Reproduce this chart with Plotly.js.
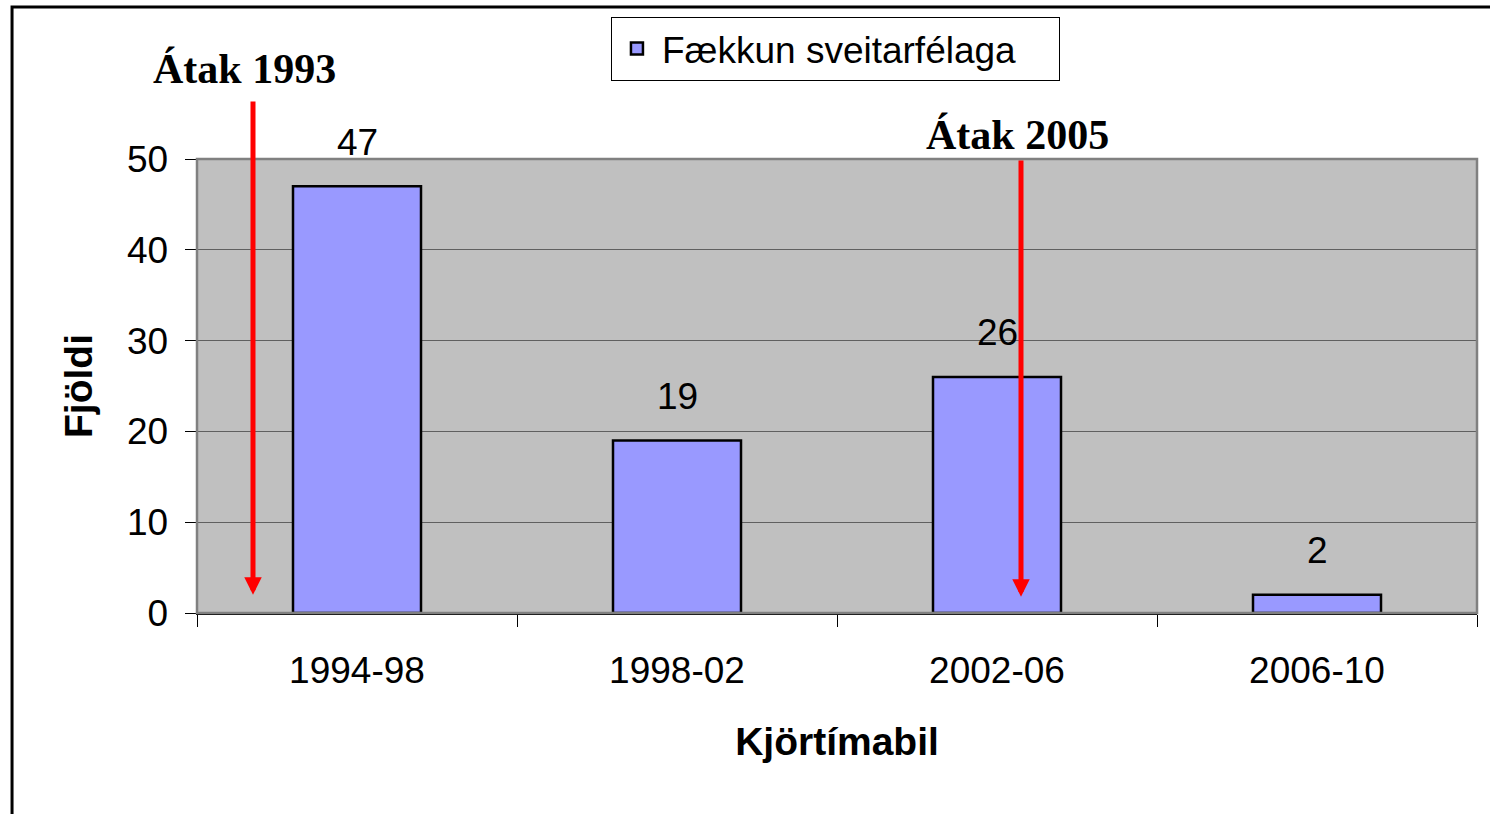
<!DOCTYPE html>
<html>
<head>
<meta charset="utf-8">
<script src="https://cdn.plot.ly/plotly-3.0.1.min.js"></script>
<style>
  html, body { margin: 0; padding: 0; background: #ffffff; }
  #chart { width: 1490px; height: 814px; }
</style>
</head>
<body>
<div id="chart"></div>
<script>
// Data
var categories = ["1994-98", "1998-02", "2002-06", "2006-10"];
var values = [47, 19, 26, 2];
var seriesName = "Fækkun sveitarfélaga";
var yTicks = [0, 10, 20, 30, 40, 50];
var xTitle = "Kjörtímabil";
var yTitle = "Fjöldi";
var eventLabels = ["Átak 1993", "Átak 2005"];

var sansFont = "Arial, 'Liberation Sans', sans-serif";
var serifFont = "'Times New Roman', 'Liberation Serif', serif";

var trace = {
  type: "bar",
  x: categories,
  y: values,
  name: seriesName,
  width: 0.4,
  marker: { color: "#9999FF", line: { color: "#000000", width: 2.5 } },
  showlegend: true,
  hoverinfo: "x+y"
};

// value labels above the bars
var annotations = categories.map(function (c, i) {
  return {
    x: c, y: values[i], xref: "x", yref: "y",
    text: String(values[i]), showarrow: false,
    yshift: 44, font: { family: sansFont, size: 37, color: "#000" }
  };
});

// event labels and arrows
annotations.push({
  x: -0.353, y: 1.198, xref: "x", yref: "paper", yanchor: "middle", xanchor: "center",
  text: "<b>" + eventLabels[0] + "</b>",
  showarrow: false, font: { family: serifFont, size: 42, color: "#000" }
});
annotations.push({
  x: 2.0625, y: 1.053, xref: "x", yref: "paper", yanchor: "middle", xanchor: "center",
  text: "<b>" + eventLabels[1] + "</b>",
  showarrow: false, font: { family: serifFont, size: 42, color: "#000" }
});
annotations.push({
  x: -0.325, y: 2, xref: "x", yref: "y",
  ax: -0.325, ay: 56.5, axref: "x", ayref: "y",
  text: "", showarrow: true, arrowhead: 2, arrowsize: 0.7, arrowwidth: 5, arrowcolor: "#FF0000"
});
annotations.push({
  x: 2.075, y: 1.8, xref: "x", yref: "y",
  ax: 2.075, ay: 50, axref: "x", ayref: "y",
  text: "", showarrow: true, arrowhead: 2, arrowsize: 0.7, arrowwidth: 5, arrowcolor: "#FF0000"
});

var layout = {
  width: 1490, height: 814,
  margin: { l: 197, r: 13, t: 159, b: 201, pad: 0 },
  paper_bgcolor: "#ffffff",
  plot_bgcolor: "#C0C0C0",
  font: { family: sansFont, size: 37, color: "#000" },
  bargap: 0.6,
  xaxis: {
    type: "category",
    range: [-0.5, 3.5],
    autorange: false,
    showline: true, linecolor: "#000", linewidth: 1.5,
    ticks: "outside", ticklen: 12, tickcolor: "#000", tickwidth: 1,
    tickson: "boundaries",
    ticklabelstandoff: 24,
    tickfont: { family: sansFont, size: 37, color: "#000" },
    showgrid: false, zeroline: false,
    title: { text: "<b>" + xTitle + "</b>", font: { family: sansFont, size: 39, color: "#000" }, standoff: 38 }
  },
  yaxis: {
    range: [0, 50],
    autorange: false,
    tickvals: yTicks,
    ticktext: yTicks.map(String),
    showline: true, linecolor: "#000", linewidth: 1.5,
    ticks: "outside", ticklen: 11, tickcolor: "#000", tickwidth: 1,
    ticklabelstandoff: 9,
    tickfont: { family: sansFont, size: 37, color: "#000" },
    showgrid: true, gridcolor: "#606060", gridwidth: 1,
    zeroline: false,
    title: { text: "<b>" + yTitle + "</b>", font: { family: sansFont, size: 39, color: "#000" }, standoff: 22 }
  },
  showlegend: true,
  legend: {
    x: 0.3234, y: 1.3128, xanchor: "left", yanchor: "top",
    orientation: "h",
    entrywidth: 392,
    bgcolor: "#ffffff", bordercolor: "#000", borderwidth: 1,
    itemwidth: 40,
    font: { family: sansFont, size: 37, color: "#000" }
  },
  annotations: annotations,
  shapes: [
    { type: "rect", xref: "paper", yref: "paper", x0: 0, x1: 1, y0: 0, y1: 1,
      line: { color: "#808080", width: 2.5 }, fillcolor: "rgba(0,0,0,0)", layer: "above" },
    { type: "rect", xref: "paper", yref: "paper", x0: -0.1445, x1: 1.2, y0: -0.6, y1: 1.3348,
      line: { color: "#000", width: 3 }, fillcolor: "rgba(0,0,0,0)", layer: "above" }
  ]
};

Plotly.newPlot("chart", [trace], layout, { displayModeBar: false, staticPlot: true });
</script>
</body>
</html>
